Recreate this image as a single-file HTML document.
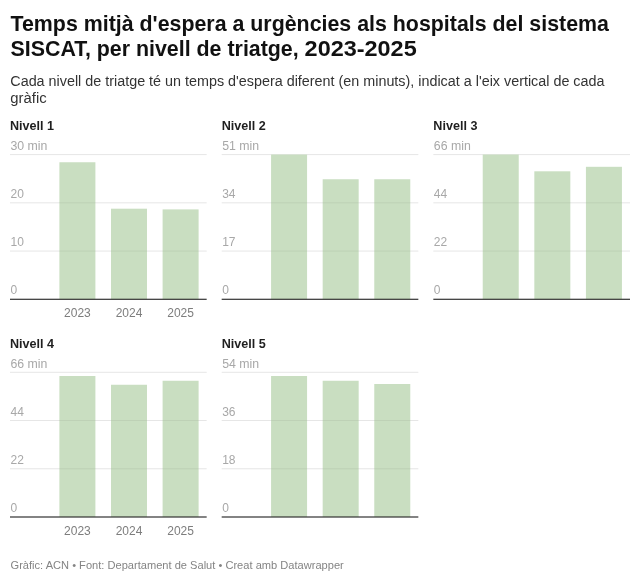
<!DOCTYPE html>
<html lang="ca"><head><meta charset="utf-8"><title>Temps mitjà d'espera a urgències als hospitals del sistema SISCAT</title>
<style>
html,body{margin:0;padding:0;background:#fff;}
body{width:640px;height:582px;overflow:hidden;}
svg{display:block;will-change:transform;font-family:"Liberation Sans",Arial,sans-serif;}
.t{font-size:22px;font-weight:700;fill:#111111;}
.d{font-size:14px;fill:#333333;}
.h{font-size:13px;font-weight:700;fill:#1f1f1f;}
.tk{font-size:12px;fill:#a8a8a8;}
.xl{font-size:12px;fill:#7d7d7d;}
.f{font-size:11.3px;fill:#848484;}
</style></head>
<body>
<svg width="640" height="582" viewBox="0 0 640 582">
<rect width="640" height="582" fill="#fff"/>
<text x="10.5" y="30.6" class="t" textLength="598.4" lengthAdjust="spacingAndGlyphs">Temps mitjà d'espera a urgències als hospitals del sistema</text>
<text x="10.5" y="56.4" class="t" textLength="288.2" lengthAdjust="spacingAndGlyphs">SISCAT, per nivell de triatge,</text>
<text x="304.6" y="56.4" class="t" textLength="112.1" lengthAdjust="spacingAndGlyphs">2023-2025</text>
<text x="10.3" y="85.7" class="d" textLength="594.2" lengthAdjust="spacingAndGlyphs">Cada nivell de triatge té un temps d'espera diferent (en minuts), indicat a l'eix vertical de cada</text>
<text x="10.3" y="102.6" class="d" textLength="36.3" lengthAdjust="spacingAndGlyphs">gràfic</text>
<rect x="10.00" y="154.10" width="196.67" height="1" fill="#e6e6e6"/>
<rect x="10.00" y="202.33" width="196.67" height="1" fill="#e6e6e6"/>
<rect x="10.00" y="250.57" width="196.67" height="1" fill="#e6e6e6"/>
<rect x="59.40" y="162.25" width="36.0" height="137.05" fill="#c9dec1"/>
<rect x="111.00" y="208.70" width="36.0" height="90.60" fill="#c9dec1"/>
<rect x="162.60" y="209.40" width="36.0" height="89.90" fill="#c9dec1"/>
<rect x="59.40" y="202.33" width="36.0" height="1" fill="rgba(0,0,0,0.06)"/>
<rect x="59.40" y="250.57" width="36.0" height="1" fill="rgba(0,0,0,0.06)"/>
<rect x="111.00" y="250.57" width="36.0" height="1" fill="rgba(0,0,0,0.06)"/>
<rect x="162.60" y="250.57" width="36.0" height="1" fill="rgba(0,0,0,0.06)"/>
<rect x="10.00" y="298.70" width="196.67" height="1.2" fill="#333333"/>
<text x="10.00" y="129.75" class="h" textLength="44.1" lengthAdjust="spacingAndGlyphs">Nivell 1</text>
<text x="10.50" y="149.75" class="tk" textLength="36.97" lengthAdjust="spacingAndGlyphs">30 min</text>
<text x="10.50" y="197.73" class="tk">20</text>
<text x="10.50" y="245.97" class="tk">10</text>
<text x="10.50" y="294.20" class="tk">0</text>
<text x="77.40" y="316.90" class="xl" text-anchor="middle">2023</text>
<text x="129.00" y="316.90" class="xl" text-anchor="middle">2024</text>
<text x="180.60" y="316.90" class="xl" text-anchor="middle">2025</text>
<rect x="221.67" y="154.10" width="196.67" height="1" fill="#e6e6e6"/>
<rect x="221.67" y="202.33" width="196.67" height="1" fill="#e6e6e6"/>
<rect x="221.67" y="250.57" width="196.67" height="1" fill="#e6e6e6"/>
<rect x="271.07" y="154.50" width="36.0" height="144.80" fill="#c9dec1"/>
<rect x="322.67" y="179.25" width="36.0" height="120.05" fill="#c9dec1"/>
<rect x="374.27" y="179.25" width="36.0" height="120.05" fill="#c9dec1"/>
<rect x="271.07" y="202.33" width="36.0" height="1" fill="rgba(0,0,0,0.06)"/>
<rect x="322.67" y="202.33" width="36.0" height="1" fill="rgba(0,0,0,0.06)"/>
<rect x="374.27" y="202.33" width="36.0" height="1" fill="rgba(0,0,0,0.06)"/>
<rect x="271.07" y="250.57" width="36.0" height="1" fill="rgba(0,0,0,0.06)"/>
<rect x="322.67" y="250.57" width="36.0" height="1" fill="rgba(0,0,0,0.06)"/>
<rect x="374.27" y="250.57" width="36.0" height="1" fill="rgba(0,0,0,0.06)"/>
<rect x="221.67" y="298.70" width="196.67" height="1.2" fill="#333333"/>
<text x="221.67" y="129.75" class="h" textLength="44.1" lengthAdjust="spacingAndGlyphs">Nivell 2</text>
<text x="222.17" y="149.75" class="tk" textLength="36.97" lengthAdjust="spacingAndGlyphs">51 min</text>
<text x="222.17" y="197.73" class="tk">34</text>
<text x="222.17" y="245.97" class="tk">17</text>
<text x="222.17" y="294.20" class="tk">0</text>
<rect x="433.33" y="154.10" width="196.67" height="1" fill="#e6e6e6"/>
<rect x="433.33" y="202.33" width="196.67" height="1" fill="#e6e6e6"/>
<rect x="433.33" y="250.57" width="196.67" height="1" fill="#e6e6e6"/>
<rect x="482.73" y="154.50" width="36.0" height="144.80" fill="#c9dec1"/>
<rect x="534.33" y="171.30" width="36.0" height="128.00" fill="#c9dec1"/>
<rect x="585.93" y="166.80" width="36.0" height="132.50" fill="#c9dec1"/>
<rect x="482.73" y="202.33" width="36.0" height="1" fill="rgba(0,0,0,0.06)"/>
<rect x="534.33" y="202.33" width="36.0" height="1" fill="rgba(0,0,0,0.06)"/>
<rect x="585.93" y="202.33" width="36.0" height="1" fill="rgba(0,0,0,0.06)"/>
<rect x="482.73" y="250.57" width="36.0" height="1" fill="rgba(0,0,0,0.06)"/>
<rect x="534.33" y="250.57" width="36.0" height="1" fill="rgba(0,0,0,0.06)"/>
<rect x="585.93" y="250.57" width="36.0" height="1" fill="rgba(0,0,0,0.06)"/>
<rect x="433.33" y="298.70" width="196.67" height="1.2" fill="#333333"/>
<text x="433.33" y="129.75" class="h" textLength="44.1" lengthAdjust="spacingAndGlyphs">Nivell 3</text>
<text x="433.83" y="149.75" class="tk" textLength="36.97" lengthAdjust="spacingAndGlyphs">66 min</text>
<text x="433.83" y="197.73" class="tk">44</text>
<text x="433.83" y="245.97" class="tk">22</text>
<text x="433.83" y="294.20" class="tk">0</text>
<rect x="10.00" y="371.80" width="196.67" height="1" fill="#e6e6e6"/>
<rect x="10.00" y="420.03" width="196.67" height="1" fill="#e6e6e6"/>
<rect x="10.00" y="468.27" width="196.67" height="1" fill="#e6e6e6"/>
<rect x="59.40" y="376.00" width="36.0" height="141.00" fill="#c9dec1"/>
<rect x="111.00" y="384.75" width="36.0" height="132.25" fill="#c9dec1"/>
<rect x="162.60" y="380.75" width="36.0" height="136.25" fill="#c9dec1"/>
<rect x="59.40" y="420.03" width="36.0" height="1" fill="rgba(0,0,0,0.06)"/>
<rect x="111.00" y="420.03" width="36.0" height="1" fill="rgba(0,0,0,0.06)"/>
<rect x="162.60" y="420.03" width="36.0" height="1" fill="rgba(0,0,0,0.06)"/>
<rect x="59.40" y="468.27" width="36.0" height="1" fill="rgba(0,0,0,0.06)"/>
<rect x="111.00" y="468.27" width="36.0" height="1" fill="rgba(0,0,0,0.06)"/>
<rect x="162.60" y="468.27" width="36.0" height="1" fill="rgba(0,0,0,0.06)"/>
<rect x="10.00" y="516.40" width="196.67" height="1.2" fill="#333333"/>
<text x="10.00" y="348.00" class="h" textLength="44.1" lengthAdjust="spacingAndGlyphs">Nivell 4</text>
<text x="10.50" y="368.00" class="tk" textLength="36.97" lengthAdjust="spacingAndGlyphs">66 min</text>
<text x="10.50" y="415.98" class="tk">44</text>
<text x="10.50" y="464.22" class="tk">22</text>
<text x="10.50" y="512.45" class="tk">0</text>
<text x="77.40" y="535.15" class="xl" text-anchor="middle">2023</text>
<text x="129.00" y="535.15" class="xl" text-anchor="middle">2024</text>
<text x="180.60" y="535.15" class="xl" text-anchor="middle">2025</text>
<rect x="221.67" y="371.80" width="196.67" height="1" fill="#e6e6e6"/>
<rect x="221.67" y="420.03" width="196.67" height="1" fill="#e6e6e6"/>
<rect x="221.67" y="468.27" width="196.67" height="1" fill="#e6e6e6"/>
<rect x="271.07" y="376.00" width="36.0" height="141.00" fill="#c9dec1"/>
<rect x="322.67" y="380.75" width="36.0" height="136.25" fill="#c9dec1"/>
<rect x="374.27" y="384.00" width="36.0" height="133.00" fill="#c9dec1"/>
<rect x="271.07" y="420.03" width="36.0" height="1" fill="rgba(0,0,0,0.06)"/>
<rect x="322.67" y="420.03" width="36.0" height="1" fill="rgba(0,0,0,0.06)"/>
<rect x="374.27" y="420.03" width="36.0" height="1" fill="rgba(0,0,0,0.06)"/>
<rect x="271.07" y="468.27" width="36.0" height="1" fill="rgba(0,0,0,0.06)"/>
<rect x="322.67" y="468.27" width="36.0" height="1" fill="rgba(0,0,0,0.06)"/>
<rect x="374.27" y="468.27" width="36.0" height="1" fill="rgba(0,0,0,0.06)"/>
<rect x="221.67" y="516.40" width="196.67" height="1.2" fill="#333333"/>
<text x="221.67" y="348.00" class="h" textLength="44.1" lengthAdjust="spacingAndGlyphs">Nivell 5</text>
<text x="222.17" y="368.00" class="tk" textLength="36.97" lengthAdjust="spacingAndGlyphs">54 min</text>
<text x="222.17" y="415.98" class="tk">36</text>
<text x="222.17" y="464.22" class="tk">18</text>
<text x="222.17" y="512.45" class="tk">0</text>
<text x="10.5" y="568.6" class="f" textLength="333.3" lengthAdjust="spacingAndGlyphs">Gràfic: ACN • Font: Departament de Salut • Creat amb Datawrapper</text>
</svg>
</body></html>
